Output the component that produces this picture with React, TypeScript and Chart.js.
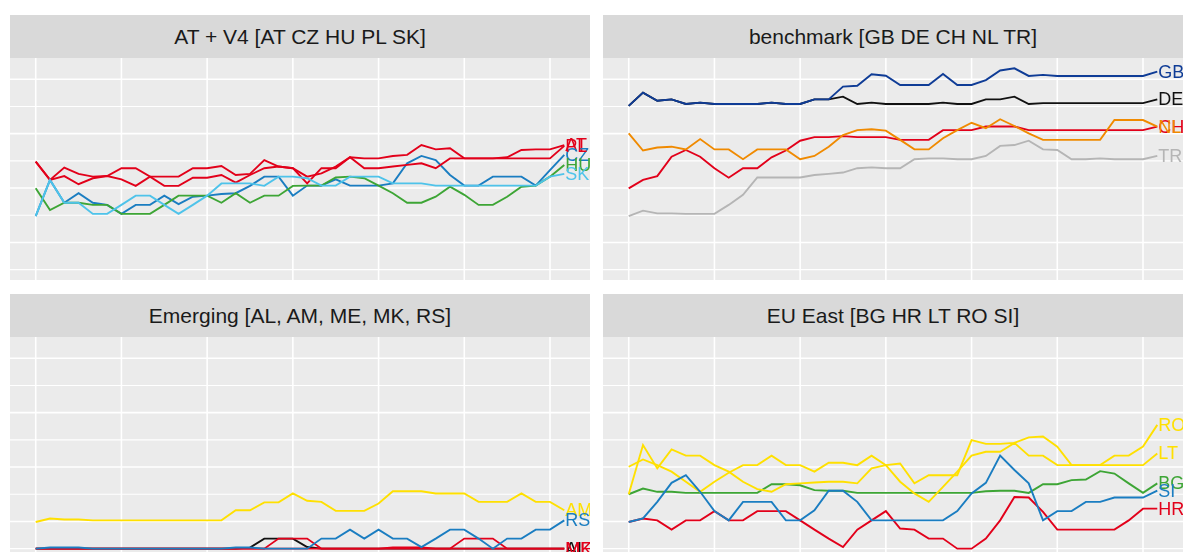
import React, { useEffect, useRef } from "react";
import { Chart, registerables } from "chart.js";

Chart.register(...registerables);

// ---------- data (38 periods, index 0..37) ----------
const periodCount = 38;

// Panel 1: AT + V4
const AT = [49.7, 43.0, 47.5, 45.2, 44.2, 44.4, 47.3, 47.3, 44.2, 44.2, 44.2, 47.3, 47.3, 48.1, 44.8, 45.2, 50.3, 47.9, 47.3, 44.2, 45.4, 47.9, 51.3, 50.9, 50.9, 51.8, 52.2, 55.8, 54.2, 54.6, 50.9, 50.9, 50.9, 51.3, 54.0, 54.2, 54.2, 55.8];
const CZ = [29.7, 43.0, 34.6, 38.1, 34.6, 33.8, 30.5, 33.8, 33.8, 37.2, 34.1, 36.8, 37.2, 37.8, 38.1, 40.8, 44.2, 44.2, 37.2, 40.9, 40.9, 43.2, 40.9, 40.9, 40.9, 41.7, 49.1, 51.8, 50.3, 44.8, 40.9, 40.9, 44.2, 44.2, 44.2, 40.9, 46.6, 52.2];
const HU = [39.9, 31.9, 34.6, 34.6, 33.8, 33.8, 30.5, 30.5, 30.5, 33.8, 37.2, 37.2, 37.2, 34.6, 38.1, 34.6, 37.2, 37.2, 40.8, 40.9, 40.9, 43.9, 44.2, 43.6, 40.9, 38.1, 34.6, 34.6, 36.8, 40.5, 37.5, 33.8, 33.8, 36.8, 40.5, 40.9, 44.2, 48.5];
const PL = [49.7, 43.0, 44.4, 41.4, 43.6, 44.4, 43.2, 40.8, 44.2, 40.8, 40.8, 43.8, 43.8, 44.8, 42.0, 44.8, 47.3, 47.9, 47.3, 41.7, 47.3, 47.3, 51.3, 47.3, 47.3, 47.9, 48.5, 49.1, 47.3, 50.9, 50.9, 50.9, 50.9, 50.9, 50.9, 50.9, 50.9, 55.5];
const SK = [29.7, 43.0, 34.6, 34.6, 30.5, 30.5, 33.8, 37.2, 37.2, 33.8, 30.5, 33.8, 37.2, 41.7, 41.7, 41.7, 40.8, 44.2, 44.2, 43.6, 40.9, 40.9, 44.2, 44.2, 44.2, 41.7, 41.7, 41.7, 40.9, 40.9, 40.9, 40.9, 40.9, 40.9, 40.9, 40.9, 44.2, 45.2];

// Panel 2: benchmark
const CH = [39.9, 43.0, 44.4, 51.5, 54.0, 51.5, 47.3, 43.8, 47.3, 47.3, 51.3, 53.8, 57.4, 58.7, 58.7, 59.1, 58.7, 58.7, 58.7, 57.7, 57.7, 57.7, 61.3, 61.3, 61.3, 62.6, 62.6, 62.6, 61.3, 61.3, 61.3, 61.3, 61.3, 61.3, 61.3, 61.3, 61.3, 62.6];
const DE = [70.2, 75.1, 72.1, 72.6, 70.9, 71.4, 70.9, 70.9, 70.9, 70.9, 71.4, 70.9, 70.9, 72.6, 72.6, 73.6, 70.9, 71.4, 70.9, 70.9, 70.9, 70.9, 71.4, 70.9, 70.9, 72.6, 72.6, 73.6, 70.9, 71.2, 71.2, 71.2, 71.2, 71.2, 71.2, 71.2, 71.2, 72.6];
const GB = [70.2, 75.1, 72.1, 72.6, 70.9, 71.4, 70.9, 70.9, 70.9, 70.9, 71.4, 70.9, 70.9, 72.6, 72.6, 77.3, 77.6, 81.8, 81.3, 77.9, 77.9, 77.9, 81.9, 77.9, 77.9, 79.7, 83.2, 84.0, 81.2, 81.6, 81.2, 81.2, 81.2, 81.2, 81.2, 81.2, 81.2, 82.8];
const NL = [60.1, 53.8, 54.9, 55.2, 54.2, 58.0, 54.2, 54.2, 50.6, 54.2, 54.2, 54.2, 50.6, 51.8, 55.2, 59.5, 61.3, 61.6, 61.1, 57.7, 54.2, 54.2, 58.3, 61.3, 64.0, 62.0, 65.3, 62.8, 60.1, 57.7, 57.7, 57.7, 57.7, 57.7, 65.0, 65.0, 65.0, 62.6];
const TR = [29.7, 31.7, 30.7, 30.7, 30.5, 30.5, 30.5, 33.8, 37.5, 43.9, 43.9, 43.9, 43.9, 44.8, 45.2, 45.7, 47.3, 47.6, 47.3, 47.3, 50.6, 50.9, 50.9, 50.6, 50.6, 51.8, 55.5, 55.8, 57.4, 54.2, 54.0, 50.6, 50.6, 50.9, 50.6, 50.6, 50.6, 51.8];

// Panel 3: Emerging
const AL = [10, 10, 10, 10, 10, 10, 10, 10, 10, 10, 10, 10, 10, 10, 10, 10.4, 13.7, 13.7, 13.7, 10.6, 10, 10, 10, 10, 10, 10, 10, 10, 10, 10, 10, 10, 10, 10, 10, 10, 10, 10];
const AM = [19.8, 21.1, 20.7, 20.7, 20.4, 20.4, 20.4, 20.4, 20.4, 20.4, 20.4, 20.4, 20.4, 20.4, 24.1, 24.1, 27.0, 27.0, 30.3, 27.6, 27.2, 23.9, 23.9, 23.9, 26.6, 31.1, 31.1, 31.1, 30.3, 30.3, 30.3, 27.2, 27.2, 27.2, 30.3, 27.2, 27.2, 24.1];
const ME = [10, 10, 10, 10, 10, 10, 10, 10, 10, 10, 10, 10, 10, 10, 10, 10, 10, 13.7, 13.7, 13.7, 10, 10, 10, 10, 10, 10, 10, 10, 10, 10, 13.7, 13.7, 13.7, 10, 10, 10, 10, 10];
const MK = [10, 10, 10, 10, 10, 10, 10, 10, 10, 10, 10, 10, 10, 10, 10, 10, 10, 10, 10, 10, 10, 10, 10, 10, 10, 10.4, 10.4, 10.4, 10, 10, 10, 10, 10, 10, 10, 10, 10, 10];
const RS = [10, 10.4, 10.4, 10.4, 10, 10, 10, 10, 10, 10, 10, 10, 10, 10, 10.4, 10.4, 10, 10, 10, 10, 13.7, 13.7, 17.0, 13.7, 17.0, 13.7, 13.7, 10.6, 13.7, 17.0, 17.0, 13.7, 10.0, 13.7, 13.7, 17.0, 17.0, 20.4];

// Panel 4: EU East
const BG = [30.0, 32.1, 30.9, 30.9, 30.5, 30.5, 30.5, 30.5, 30.5, 30.5, 33.7, 33.7, 33.3, 31.5, 31.3, 31.3, 30.5, 30.5, 30.5, 30.5, 30.5, 30.5, 30.5, 30.5, 30.5, 31.1, 31.3, 31.3, 30.5, 33.7, 33.7, 35.2, 35.4, 38.5, 37.6, 34.0, 30.5, 34.0];
const HR = [19.8, 21.1, 20.4, 17.0, 20.4, 20.4, 23.8, 20.4, 20.4, 23.8, 23.8, 23.8, 20.4, 17.0, 13.7, 10.6, 17.0, 20.4, 23.8, 17.4, 17.0, 13.7, 13.7, 10.0, 10.0, 13.7, 20.4, 29.0, 28.8, 23.5, 17.0, 17.0, 17.0, 17.0, 17.0, 20.4, 24.7, 24.7];
const LT = [40.1, 42.8, 40.7, 38.3, 34.6, 30.9, 34.6, 37.9, 40.7, 40.7, 44.2, 40.7, 40.7, 38.3, 41.6, 41.6, 40.7, 44.2, 40.7, 34.6, 30.3, 27.2, 32.7, 38.3, 44.2, 45.6, 45.6, 48.9, 44.2, 44.2, 40.7, 40.7, 40.7, 40.7, 40.7, 40.7, 40.7, 45.0];
const RO = [30.0, 48.1, 39.5, 46.5, 44.2, 44.2, 40.7, 38.3, 34.6, 31.9, 30.9, 33.7, 34.0, 34.3, 34.6, 34.6, 34.0, 39.5, 40.7, 41.3, 34.0, 37.0, 37.0, 37.0, 49.9, 48.5, 48.5, 48.9, 50.9, 51.2, 47.5, 40.7, 40.7, 40.7, 44.2, 44.2, 47.5, 55.5];
const SI = [19.8, 21.1, 27.2, 34.2, 37.0, 30.9, 23.8, 20.4, 27.2, 27.2, 27.2, 20.4, 20.4, 24.1, 31.3, 31.3, 27.2, 20.4, 20.4, 20.4, 20.4, 20.4, 20.4, 23.8, 30.3, 34.2, 44.2, 38.9, 34.0, 20.4, 23.8, 23.8, 27.2, 27.2, 28.8, 28.8, 28.8, 31.3];

const panelTitles = [
  "AT + V4 [AT CZ HU PL SK]",
  "benchmark [GB DE CH NL TR]",
  "Emerging [AL, AM, ME, MK, RS]",
  "EU East [BG HR LT RO SI]",
];

const xGridValues = [0, 6, 12, 18, 24, 30, 36];
const yMajorValues = [20, 40, 60, 80];
const yMinorValues = [10, 30, 50, 70];

// ---------- styles ----------
const RED = "#E2001A";
const BLUE = "#1A7DC1";
const GREEN = "#3DA535";
const LIGHTBLUE = "#4EC3EA";
const NAVY = "#0F3C96";
const BLACK = "#111111";
const ORANGE = "#F08A00";
const GREY = "#B5B5B5";
const YELLOW = "#FFE000";

type Series = { name: string; values: number[]; color: string };

const panels: { title: string; left: number; top: number; series: Series[] }[] = [
  {
    title: panelTitles[0], left: 10, top: 15,
    series: [
      { name: "AT", values: AT, color: RED },
      { name: "CZ", values: CZ, color: BLUE },
      { name: "HU", values: HU, color: GREEN },
      { name: "PL", values: PL, color: RED },
      { name: "SK", values: SK, color: LIGHTBLUE },
    ],
  },
  {
    title: panelTitles[1], left: 603, top: 15,
    series: [
      { name: "CH", values: CH, color: RED },
      { name: "DE", values: DE, color: BLACK },
      { name: "GB", values: GB, color: NAVY },
      { name: "NL", values: NL, color: ORANGE },
      { name: "TR", values: TR, color: GREY },
    ],
  },
  {
    title: panelTitles[2], left: 10, top: 294,
    series: [
      { name: "AL", values: AL, color: BLACK },
      { name: "AM", values: AM, color: YELLOW },
      { name: "ME", values: ME, color: RED },
      { name: "MK", values: MK, color: RED },
      { name: "RS", values: RS, color: BLUE },
    ],
  },
  {
    title: panelTitles[3], left: 603, top: 294,
    series: [
      { name: "BG", values: BG, color: GREEN },
      { name: "HR", values: HR, color: RED },
      { name: "LT", values: LT, color: YELLOW },
      { name: "RO", values: RO, color: YELLOW },
      { name: "SI", values: SI, color: BLUE },
    ],
  },
];

const PANEL_W = 580;
const STRIP_H = 43;
const PLOT_H = 222;
const FONT = '"Liberation Sans", Arial, Helvetica, sans-serif';

const backgroundGridPlugin = {
  id: "bgGrid",
  beforeDatasetsDraw(chart: any) {
    const { ctx, chartArea, scales } = chart;
    const { left, right, top, bottom } = chartArea;
    ctx.save();
    ctx.fillStyle = "#EBEBEB";
    ctx.fillRect(left, top, right - left, bottom - top);
    ctx.strokeStyle = "#FFFFFF";
    const hline = (v: number, w: number) => {
      const y = scales.y.getPixelForValue(v);
      ctx.lineWidth = w;
      ctx.beginPath();
      ctx.moveTo(left, y);
      ctx.lineTo(right, y);
      ctx.stroke();
    };
    yMinorValues.forEach((v) => hline(v, 1.1));
    yMajorValues.forEach((v) => hline(v, 1.6));
    xGridValues.forEach((v) => {
      const x = scales.x.getPixelForValue(v);
      ctx.lineWidth = 1.6;
      ctx.beginPath();
      ctx.moveTo(x, top);
      ctx.lineTo(x, bottom);
      ctx.stroke();
    });
    ctx.restore();
  },
};

const endLabelPlugin = {
  id: "endLabels",
  afterDatasetsDraw(chart: any) {
    const { ctx, chartArea, scales } = chart;
    ctx.save();
    ctx.beginPath();
    ctx.rect(chartArea.left, chartArea.top, chartArea.right - chartArea.left, chartArea.bottom - chartArea.top);
    ctx.clip();
    ctx.font = `18px ${FONT}`;
    ctx.textBaseline = "middle";
    ctx.textAlign = "left";
    chart.data.datasets.forEach((ds: any) => {
      const last = ds.data[ds.data.length - 1];
      const x = scales.x.getPixelForValue(last.x) + 1;
      const y = scales.y.getPixelForValue(last.y) + 1;
      ctx.fillStyle = ds.borderColor;
      ctx.fillText(ds.label, x, y);
    });
    ctx.restore();
  },
};

function Panel({ title, left, top, series }: { title: string; left: number; top: number; series: Series[] }) {
  const ref = useRef<HTMLCanvasElement | null>(null);
  useEffect(() => {
    if (!ref.current) return;
    const chart = new Chart(ref.current, {
      type: "line",
      data: {
        datasets: series.map((s, i) => ({
          label: s.name,
          data: s.values.map((v, k) => ({ x: k, y: v })),
          borderColor: s.color,
          backgroundColor: s.color,
          borderWidth: 1.9,
          pointRadius: 0,
          tension: 0,
          fill: false,
          // later series are drawn on top (as in the reference)
          order: series.length - i,
        })),
      },
      options: {
        animation: false,
        responsive: false,
        devicePixelRatio: 1,
        layout: { padding: 0 },
        events: [],
        plugins: { legend: { display: false }, tooltip: { enabled: false }, title: { display: false } },
        scales: {
          x: { type: "linear", min: -1.8, max: periodCount - 1 + 1.8, display: false },
          y: { type: "linear", min: 6.2, max: 87.8, display: false },
        },
      },
      plugins: [backgroundGridPlugin, endLabelPlugin],
    } as any);
    return () => chart.destroy();
  }, []);
  return (
    <div style={{ position: "absolute", left, top, width: PANEL_W }}>
      <div
        style={{
          height: STRIP_H,
          background: "#D9D9D9",
          color: "#1A1A1A",
          fontFamily: FONT,
          fontSize: 21,
          display: "flex",
          alignItems: "center",
          justifyContent: "center",
          whiteSpace: "nowrap",
        }}
      >
        {title}
      </div>
      <canvas ref={ref} width={PANEL_W} height={PLOT_H} style={{ display: "block", width: PANEL_W, height: PLOT_H }} />
    </div>
  );
}

export default function App() {
  return (
    <div
      style={{
        position: "fixed",
        left: 0,
        top: 0,
        width: 1184,
        height: 552,
        overflow: "hidden",
        background: "#FFFFFF",
      }}
    >
      {panels.map((p) => (
        <Panel key={p.title} title={p.title} left={p.left} top={p.top} series={p.series} />
      ))}
    </div>
  );
}
